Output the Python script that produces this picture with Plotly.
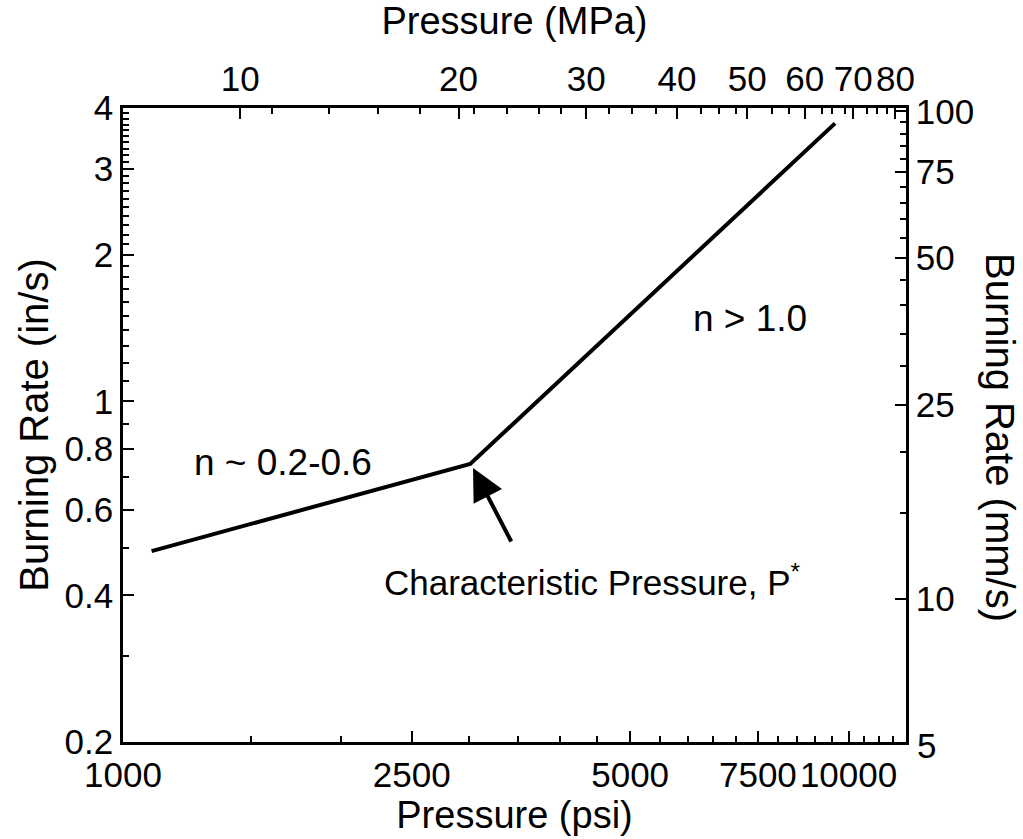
import math
import plotly.graph_objects as go

# ---- data ----
pressure_psi = [1095, 3010, 9580]
burn_rate_in_s = [0.493, 0.744, 3.72]

# bottom axis (psi)
psi_ticks = [1000, 2500, 5000, 7500, 10000]
psi_minor = [1500, 2000, 3000, 3500, 4000, 4500, 5500, 6000, 6500, 7000,
             8000, 8500, 9000, 9500, 10500, 11000, 11500]
psi_range = [1000, 12000]

# top axis (MPa)
PSI_PER_MPA = 145.038
mpa_ticks = [10, 20, 30, 40, 50, 60, 70, 80]
mpa_minor = [11.05, 13.27, 15.48, 17.68, 21.0, 23.3, 25.8, 27.7,
             32.2, 34.7, 37.4, 43.2, 45.7, 48.3, 54.1, 57.1,
             63.3, 65.5, 68.1, 73.0, 75.4, 77.8]

# left axis (in/s)
ins_ticks = [0.2, 0.4, 0.6, 0.8, 1, 2, 3, 4]
ins_ticktext = ["0.2", "0.4", "0.6", "0.8", "1", "2", "3", "4"]
ins_minor = [0.3, 0.5, 0.7, 0.9] + [round(1 + 0.1 * i, 1) for i in range(1, 30) if i % 10 != 0]
ins_range = [0.2, 4]

# right axis (mm/s)
MM_PER_IN = 25.4
mms_ticks = [10, 25, 50, 75, 100]
mms_minor = [15, 20, 30, 35, 40, 45, 55, 60, 65, 70, 80, 85, 90, 95]

FONT = "Arial, Liberation Sans, sans-serif"
TICK_FS = 35
XTITLE_FS = 38
YTITLE_FS = 40
NOTE_FS = 37
lg = math.log10

fig = go.Figure()
fig.add_trace(go.Scatter(x=pressure_psi, y=burn_rate_in_s, mode="lines",
                         line=dict(color="black", width=4), showlegend=False,
                         xaxis="x", yaxis="y"))
# invisible helper traces so the secondary axes are drawn
fig.add_trace(go.Scatter(x=[p / PSI_PER_MPA for p in pressure_psi], y=burn_rate_in_s,
                         mode="lines", line=dict(width=0), opacity=0, showlegend=False,
                         hoverinfo="skip", xaxis="x2", yaxis="y"))
fig.add_trace(go.Scatter(x=pressure_psi, y=[r * MM_PER_IN for r in burn_rate_in_s],
                         mode="lines", line=dict(width=0), opacity=0, showlegend=False,
                         hoverinfo="skip", xaxis="x", yaxis="y2"))

common = dict(showline=True, linecolor="black", linewidth=2.5, showgrid=False,
              zeroline=False, ticks="inside", ticklen=11, tickwidth=2,
              tickcolor="black", tickfont=dict(size=TICK_FS, color="black", family=FONT))

def minor(vals):
    return dict(tickmode="array", tickvals=vals, ticks="inside", ticklen=6,
                tickwidth=2, tickcolor="black", showgrid=False)

fig.update_layout(
    width=1023, height=839,
    margin=dict(l=123, r=117, t=108, b=97),
    paper_bgcolor="white", plot_bgcolor="white",
    font=dict(family=FONT, color="black"),
    xaxis=dict(type="log", range=[lg(psi_range[0]), lg(psi_range[1])],
               tickmode="array", tickvals=psi_ticks, ticktext=[str(v) for v in psi_ticks],
               minor=minor(psi_minor), anchor="y", side="bottom",
               title=dict(text="Pressure (psi)", font=dict(size=XTITLE_FS), standoff=0),
               **common),
    xaxis2=dict(type="log", range=[lg(psi_range[0] / PSI_PER_MPA), lg(psi_range[1] / PSI_PER_MPA)],
                tickmode="array", tickvals=mpa_ticks, ticktext=[str(v) for v in mpa_ticks],
                minor=minor(mpa_minor), overlaying="x", anchor="y", side="top",
                title=dict(text="Pressure (MPa)", font=dict(size=XTITLE_FS), standoff=15),
                **common),
    yaxis=dict(type="log", range=[lg(ins_range[0]), lg(ins_range[1])],
               tickmode="array", tickvals=ins_ticks, ticktext=ins_ticktext,
               minor=minor(ins_minor), anchor="x", side="left",
               title=dict(text="Burning Rate (in/s)", font=dict(size=YTITLE_FS), standoff=4),
               **common),
    yaxis2=dict(type="log", range=[lg(ins_range[0] * MM_PER_IN), lg(ins_range[1] * MM_PER_IN)],
                tickmode="array", tickvals=mms_ticks, ticktext=[str(v) for v in mms_ticks],
                minor=minor(mms_minor), overlaying="y", anchor="x", side="right",
                **common),
)

annotations = [
    # right axis title (reads top to bottom)
    dict(text="Burning Rate (mm/s)", xref="paper", yref="paper", x=1.0, y=0.5,
         xanchor="center", yanchor="middle", xshift=94, yshift=-12, textangle=90,
         showarrow=False, font=dict(size=YTITLE_FS, color="black")),
    # tick label "5" at the bottom of the right axis
    dict(text="5", xref="paper", yref="paper", x=1.0, y=0.0, xanchor="left",
         yanchor="middle", xshift=9, yshift=-3, showarrow=False,
         font=dict(size=TICK_FS, color="black")),
    dict(text="n ~ 0.2-0.6", xref="x", yref="y", x=lg(1662), y=lg(0.75),
         showarrow=False, font=dict(size=NOTE_FS, color="black")),
    dict(text="n > 1.0", xref="x", yref="y", x=lg(7316), y=lg(1.48),
         showarrow=False, font=dict(size=NOTE_FS, color="black")),
    dict(text="Characteristic Pressure, P<sup>*</sup>", xref="x", yref="y",
         x=lg(4430), y=lg(0.43), showarrow=False, font=dict(size=35, color="black")),
    dict(text="", xref="x", yref="y", x=lg(3037), y=lg(0.73), ax=39, ay=75,
         showarrow=True, arrowhead=2, arrowsize=1.6, arrowwidth=4, arrowcolor="black"),
]
fig.update_layout(annotations=annotations)

fig.write_html("out.html")
